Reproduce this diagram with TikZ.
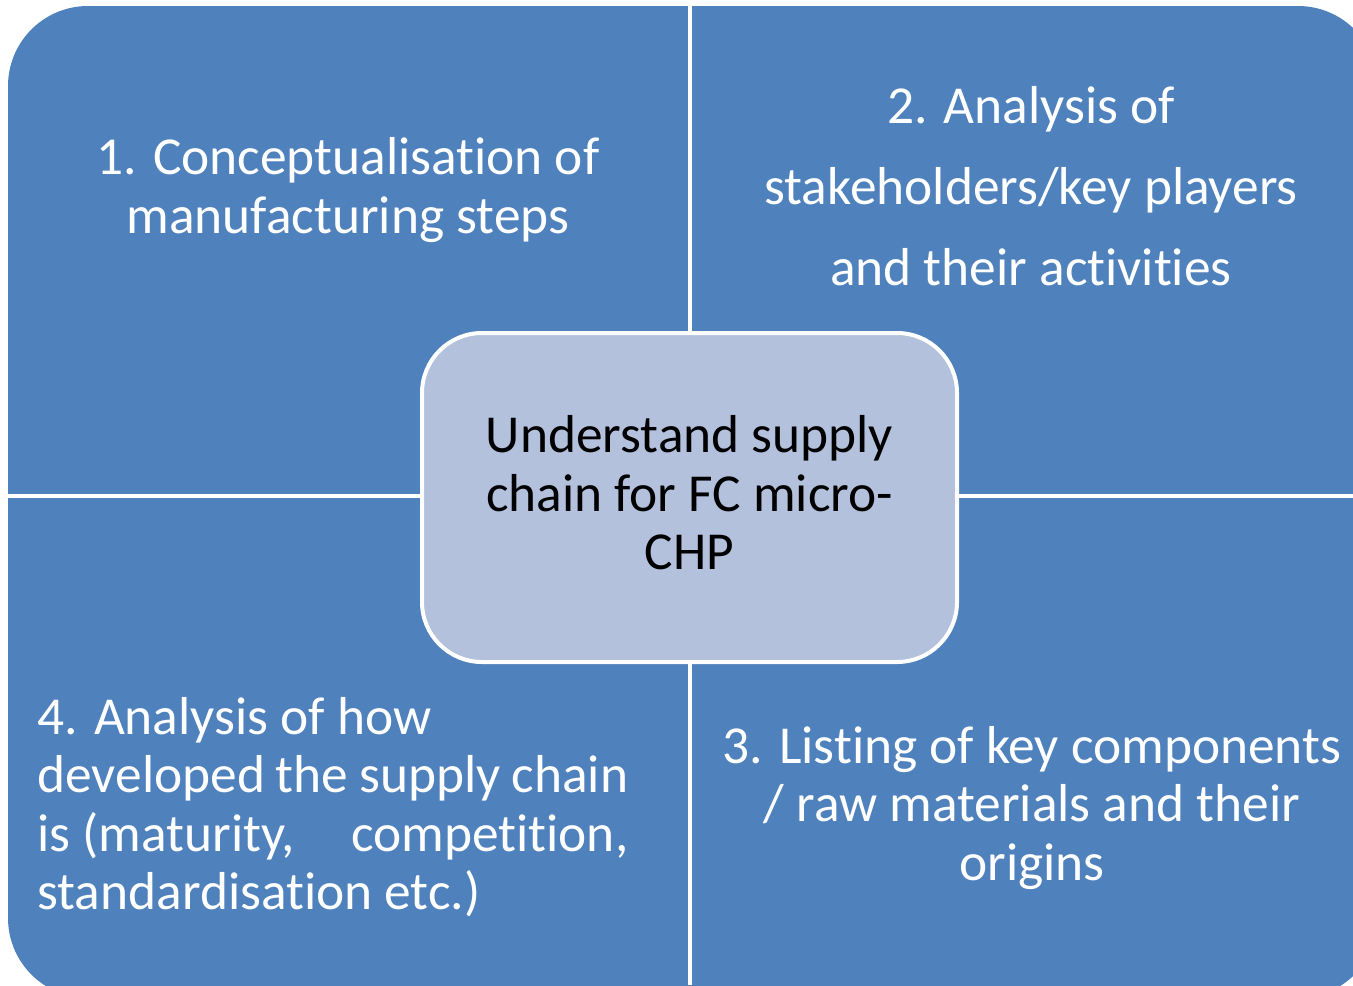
\documentclass[tikz,border=0pt]{standalone}
\usepackage{fontspec}
\setmainfont{Carlito}[Ligatures=NoCommon]
\definecolor{quadblue}{RGB}{79,129,189}
\definecolor{centreblue}{RGB}{179,193,221}
\gdef\quadfill{quadblue}
\gdef\centrefill{centreblue}

\begin{document}
\begin{tikzpicture}[x=0.5pt, y=-0.5pt,
  txt/.style={text=white, align=center, inner sep=0pt, font=\fontsize{26.7pt}{29.25pt}\selectfont},
  divider/.style={white, line width=2pt}]

\useasboundingbox (0,0) rectangle (1353,985);

\fill[\quadfill, rounded corners=40pt] (8,6) rectangle (1378,998);
\draw[divider] (690,0) -- (690,985);
\draw[divider] (0,496) -- (1353,496);

\node[txt] (q1) at (348,190) {1. Conceptualisation of\\manufacturing steps};
\node[txt, font=\fontsize{26.7pt}{40.5pt}\selectfont] (q2) at (1031,186) {2. Analysis of\\stakeholders/key players\\and their activities};
\node[txt] (q3) at (1032,808) {3. Listing of key components\\/ raw materials and their\\origins};
\node[txt, align=left, anchor=west] (q4) at (37,807)
  {4. Analysis of how\\\makebox[295.5pt][s]{developed the supply chain}\\\makebox[295.5pt][s]{is (maturity, \hfill competition,}\\standardisation etc.)};

\node[txt, text=black, draw=white, line width=2pt, fill=\centrefill, rounded corners=30pt,
  minimum width=267.5pt, minimum height=164.5pt] (centre) at (689.5,497.5)
  {Understand supply\\chain for FC micro-\\CHP\vphantom{g}};

\end{tikzpicture}
\end{document}
